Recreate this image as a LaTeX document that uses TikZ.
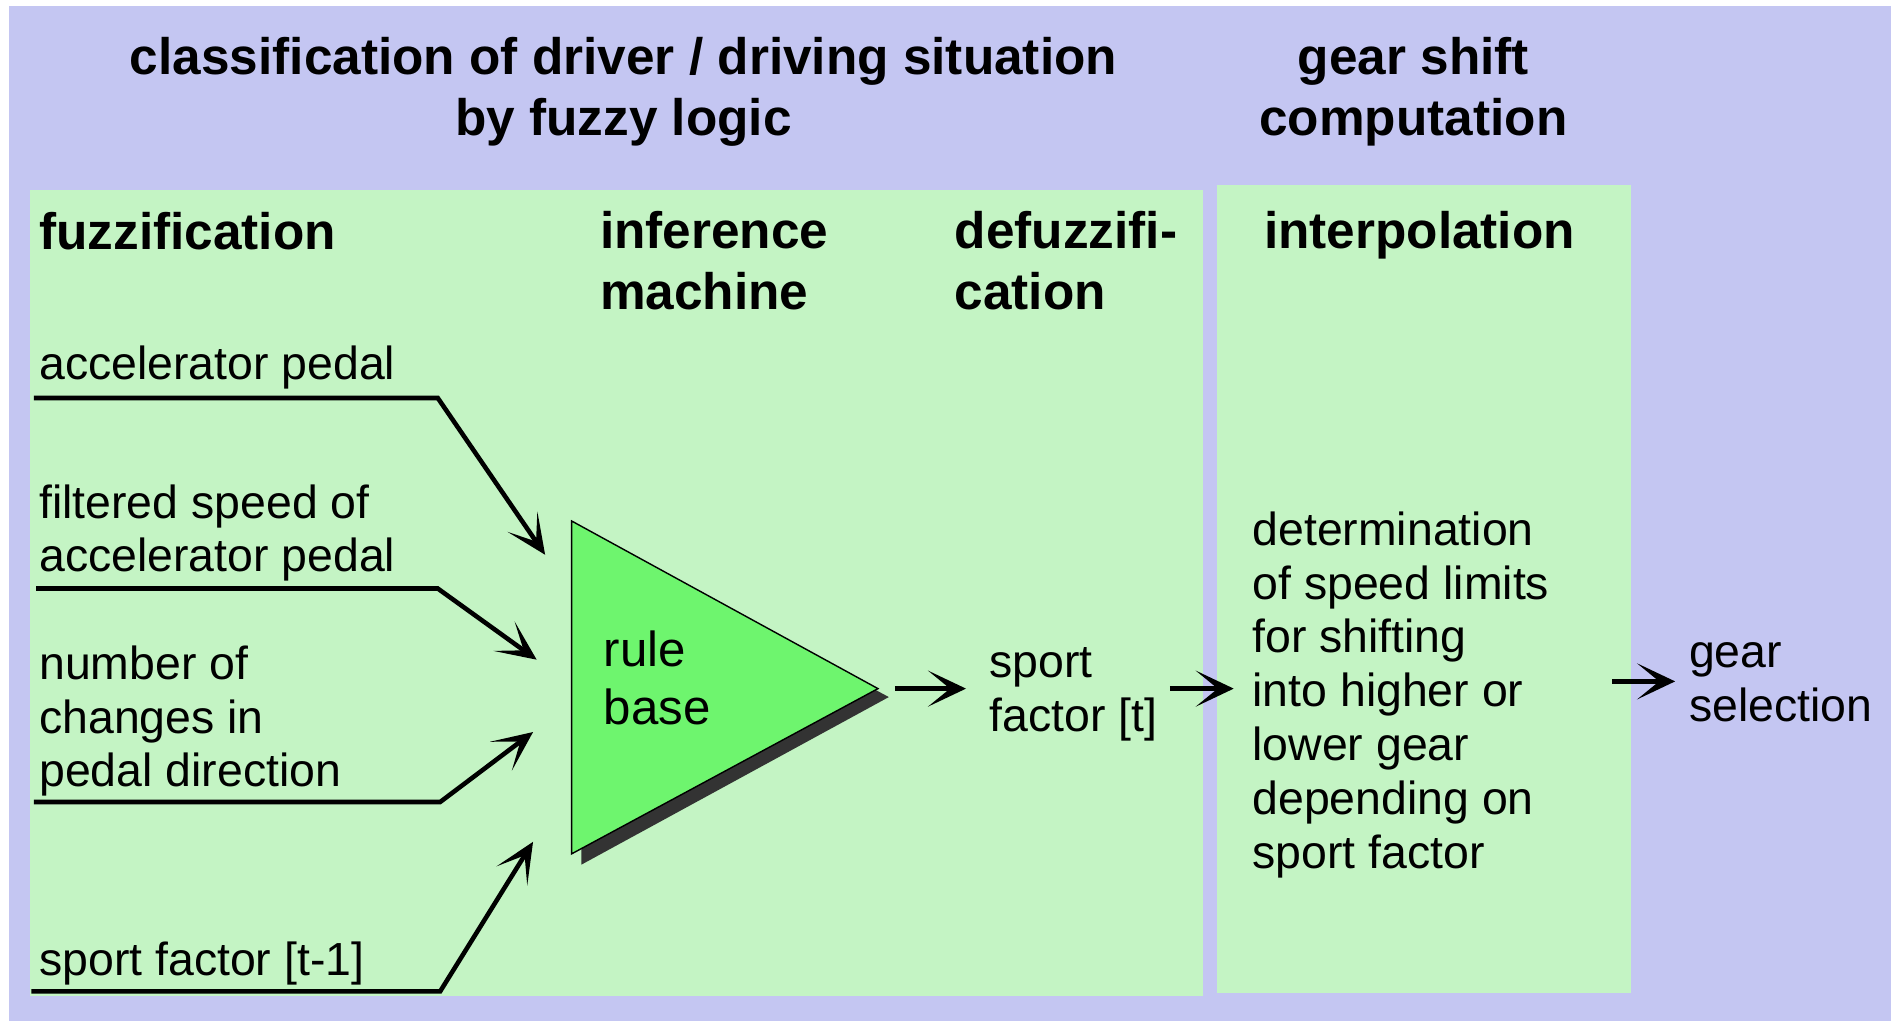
\documentclass[tikz,border=0pt]{standalone}
\usepackage{fontspec}
\setmainfont{Liberation Sans}
\usetikzlibrary{positioning, arrows.meta}

\definecolor{bglav}{HTML}{C4C6F2}
\definecolor{panelgreen}{HTML}{C4F4C4}
\definecolor{rulegreen}{HTML}{6EF56E}
\definecolor{shadowgray}{HTML}{333333}

\begin{document}
\begin{tikzpicture}[
    x=0.01206cm, y=-0.01206cm, % one unit = one pixel of the sketch, y downwards
    panel/.style={fill=panelgreen, draw=none},
    txt/.style={font=\fontsize{13.2}{15.3}\selectfont, align=left, anchor=west, inner sep=0pt},
    head/.style={font=\fontsize{14.6}{17.2}\selectfont\bfseries, align=left, anchor=west, inner sep=0pt},
    title/.style={font=\fontsize{14.6}{17.2}\selectfont\bfseries, align=center, inner sep=0pt},
    inwire/.style={line width=1.3pt, -{Stealth[length=0.4cm, width=0.36cm, inset=0.24cm]}},
    outwire/.style={line width=1.5pt, -{Stealth[length=0.38cm, width=0.36cm, inset=0.22cm]}}
]

% background and the two panels
\useasboundingbox (0,0) rectangle (1568,847);
\fill[white] (0,0) rectangle (1568,847);
\fill[bglav] (7.5,5) rectangle (1568,847);
\fill[panel] (25,157.5) rectangle (997.5,826);
\fill[panel] (1009,153.5) rectangle (1352,823);

% titles
\node[title] (fuzzytitle) at (517,76) {classification of driver / driving situation\\by fuzzy logic};
\node[title] (geartitle) at (1172,76) {gear shift\\computation};

% column headings
\node[head] (fuzzif) at (32,192) {fuzzification};
\node[head] (infer) at (497,216) {inference\\machine};
\node[head] (defuzz) at (791,216) {defuzzifi-\\cation};
\node[head, anchor=center] (interp) at (1177,195) {interpolation};

% inputs (left)
\node[txt] (acc) at (32,305) {accelerator pedal};
\node[txt] (filt) at (32,442) {filtered speed of\\accelerator pedal};
\node[txt] (chg) at (32,598) {number of\\changes in\\pedal direction};
\node[txt] (sfold) at (32,799) {sport factor [t-1]};

\coordinate (acc_l) at (28,330);  \coordinate (acc_k) at (363,330);  \coordinate (acc_t) at (452,460);
\coordinate (filt_l) at (30,488); \coordinate (filt_k) at (363,488); \coordinate (filt_t) at (445,547);
\coordinate (chg_l) at (28,665);  \coordinate (chg_k) at (365,665);  \coordinate (chg_t) at (442,607);
\coordinate (sf_l) at (26,822);   \coordinate (sf_k) at (365,822);   \coordinate (sf_t) at (442,698);

\draw[inwire] (acc_l) -- (acc_k) -- (acc_t);
\draw[inwire] (filt_l) -- (filt_k) -- (filt_t);
\draw[inwire] (chg_l) -- (chg_k) -- (chg_t);
\draw[inwire] (sf_l) -- (sf_k) -- (sf_t);

% rule base triangle with shadow
\coordinate (rb_a) at (474,432);
\coordinate (rb_b) at (474,708);
\coordinate (rb_c) at (728,571);
\fill[shadowgray] ([shift={(8,9)}]rb_a) -- ([shift={(8,9)}]rb_b) -- ([shift={(9,7)}]rb_c) -- cycle;
\filldraw[fill=rulegreen, draw=black, line width=0.4pt] (rb_a) -- (rb_b) -- (rb_c) -- cycle;
\node[txt, font=\fontsize{14}{16.5}\selectfont] (rb) at (500,562) {rule\\base};

% outputs
\node[txt] (sf) at (820,576) {sport\\factor [t]};
\node[txt] (limits) at (1038,576) {determination\\of speed limits\\for shifting\\into higher or\\lower gear\\depending on\\sport factor};
\node[txt] (gear) at (1400,566) {gear\\selection};

\coordinate (rb_out) at (742,571);
\coordinate (sf_in) at (801,571);
\coordinate (sf_out) at (970,571);
\coordinate (lim_in) at (1023,571);
\coordinate (lim_out) at (1337,565);
\coordinate (gear_in) at (1389,565);

\draw[outwire] (rb_out) -- (sf_in);
\draw[outwire] (sf_out) -- (lim_in);
\draw[outwire] (lim_out) -- (gear_in);

\end{tikzpicture}
\end{document}
